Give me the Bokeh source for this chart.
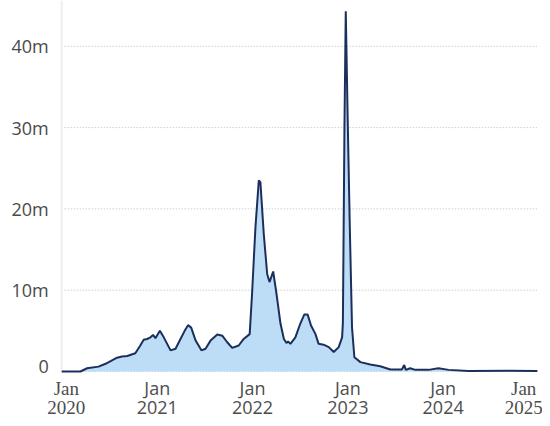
import pandas as pd
from bokeh.plotting import figure
from bokeh.models import Range1d, ColumnDataSource
from bokeh.core.properties import value
from bokeh.embed import file_html
from bokeh.resources import INLINE

# ---- data (values in millions) ----
dates = [
    "2020-01-01", "2020-03-13", "2020-04-07", "2020-05-21", "2020-06-17", "2020-07-31",
    "2020-08-19", "2020-09-08", "2020-10-09", "2020-10-28", "2020-11-10", "2020-11-23",
    "2020-12-06", "2020-12-16", "2020-12-25", "2021-01-11", "2021-01-26", "2021-02-21",
    "2021-03-12", "2021-03-31", "2021-04-16", "2021-04-29", "2021-05-11", "2021-05-28",
    "2021-06-19", "2021-07-05", "2021-07-24", "2021-08-19", "2021-09-07", "2021-09-26",
    "2021-10-15", "2021-11-09", "2021-11-28", "2021-12-21", "2021-12-30", "2022-01-12",
    "2022-01-25", "2022-01-31", "2022-02-13", "2022-02-26", "2022-03-07", "2022-03-21",
    "2022-04-03", "2022-04-18", "2022-05-01", "2022-05-11", "2022-05-17", "2022-05-26",
    "2022-06-14", "2022-07-03", "2022-07-18", "2022-07-31", "2022-08-13", "2022-08-30",
    "2022-09-11", "2022-09-30", "2022-10-20", "2022-11-08", "2022-11-27", "2022-12-10",
    "2022-12-13", "2022-12-19", "2022-12-24", "2023-01-01", "2023-01-09", "2023-01-17",
    "2023-01-26", "2023-02-18", "2023-03-28", "2023-05-05", "2023-06-13", "2023-07-27",
    "2023-08-05", "2023-08-11", "2023-08-28", "2023-09-16", "2023-11-06", "2023-12-14",
    "2024-01-22", "2024-04-08", "2024-09-06", "2024-12-27",
]
values_m = [
    0.0, 0.0, 0.4, 0.6, 0.95, 1.7,
    1.85, 1.9, 2.25, 3.2, 3.9, 4.0,
    4.2, 4.5, 4.1, 5.0, 4.2, 2.6,
    2.8, 4.0, 5.0, 5.7, 5.4, 3.8,
    2.6, 2.8, 3.8, 4.55, 4.4, 3.6,
    2.9, 3.2, 4.0, 4.6, 9.5, 17.7,
    23.5, 23.3, 16.9, 12.0, 11.0, 12.3,
    9.5, 5.9, 4.0, 3.5, 3.7, 3.4,
    4.2, 5.9, 7.0, 7.0, 5.65, 4.6,
    3.4, 3.3, 3.0, 2.4, 3.0, 4.2,
    6.0, 30.0, 44.3, 30.0, 17.0, 5.4,
    1.75, 1.15, 0.85, 0.65, 0.25, 0.25,
    0.8, 0.2, 0.4, 0.2, 0.2, 0.4,
    0.2, 0.05, 0.1, 0.05,
]
y_ticks = [0, 10, 20, 30, 40]
y_tick_labels = ["0", "10m", "20m", "30m", "40m"]
x_tick_dates = ["2020-01-01", "2021-01-01", "2022-01-01", "2023-01-01", "2024-01-01", "2025-01-01"]
x_tick_month = ["Jan", "Jan", "Jan", "Jan", "Jan", "Jan"]
x_tick_year = ["2020", "2021", "2022", "2023", "2024", "2025"]

x = pd.to_datetime(dates)
src = ColumnDataSource(dict(x=x, y=values_m))

# layout: the whole canvas is the frame; data span sits between px 61.2 and 538.2
W, H = 542, 418
t0, t1 = pd.Timestamp(x_tick_dates[0]), pd.Timestamp(x_tick_dates[-1])
span = t1 - t0
left_px, right_px = 61.2, 538.2
ppx = span / (right_px - left_px)
x_start = t0 - ppx * left_px
x_end = t1 + ppx * (W - right_px)
zero_px, px_per_m = 371.0, 8.13
y_start = (zero_px - H) / px_per_m
y_end = zero_px / px_per_m
month_y = (zero_px - 387.5) / px_per_m
year_y = (zero_px - 407.0) / px_per_m

p = figure(width=W, height=H, output_backend="svg", toolbar_location=None,
           x_axis_type="datetime", x_axis_location=None, y_axis_location=None,
           x_range=Range1d(x_start, x_end), y_range=Range1d(y_start, y_end),
           min_border=0)
p.outline_line_color = None
p.background_fill_color = "white"
p.border_fill_color = "white"
p.grid.visible = False

# dotted horizontal gridlines
p.segment(x0=[t0] * len(y_ticks), y0=y_ticks, x1=[t1] * len(y_ticks), y1=y_ticks,
          line_color="#b8b8b8", line_dash="1 2", line_width=1)

# faint left edge line
p.segment(x0=[t0], y0=[0], x1=[t0], y1=[y_end], line_color="#eeeeee", line_width=2)

# area + line
p.varea(x="x", y1=0, y2="y", source=src, fill_color="#bddcf6")
p.line(x="x", y="y", source=src, line_color="#1c2f5c", line_width=2)

# y tick labels
ysrc = ColumnDataSource(dict(x=[t0] * len(y_ticks), y=y_ticks, t=y_tick_labels,
                             yo=[-5 if v == 0 else 0 for v in y_ticks]))
p.text(x="x", y="y", text="t", source=ysrc, x_offset=-13, y_offset="yo",
       text_font=value("Open Sans"), text_font_size="18px", text_color="#4a4a4a",
       text_align="right", text_baseline="middle")

# x tick labels
xt = pd.to_datetime(x_tick_dates)
serif_idx = [0, 5]
sans_idx = [1, 2, 3, 4]
offsets = {0: 4.6, 5: -15}
for idxs, font, size in [(sans_idx, "Open Sans", "18px"), (serif_idx, "Liberation Serif", "19px")]:
    s = ColumnDataSource(dict(x=[xt[i] for i in idxs],
                              off=[offsets.get(i, 0) for i in idxs],
                              m=[x_tick_month[i] for i in idxs],
                              yr=[x_tick_year[i] for i in idxs]))
    p.text(x="x", y=month_y, text="m", source=s, x_offset="off",
           text_font=value(font), text_font_size=size, text_color="#4d4d4d",
           text_align="center", text_baseline="alphabetic")
    p.text(x="x", y=year_y, text="yr", source=s, x_offset="off",
           text_font=value(font), text_font_size=size, text_color="#4d4d4d",
           text_align="center", text_baseline="alphabetic")

open("out.html", "w").write(file_html(p, INLINE))
